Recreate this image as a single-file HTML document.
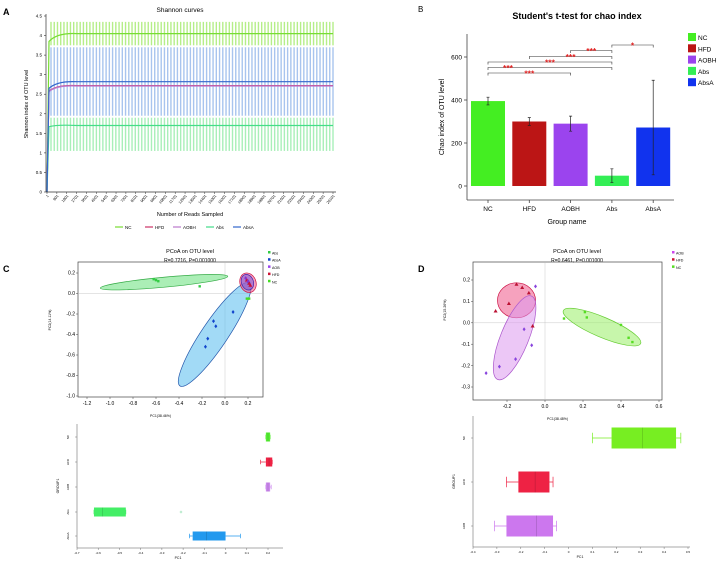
<!DOCTYPE html>
<html><head><meta charset="utf-8"><style>
body{margin:0;background:#fff;font-family:"Liberation Sans",sans-serif}
svg text{font-family:"Liberation Sans",sans-serif}
</style></head><body>
<svg id="fig" width="718" height="561" viewBox="0 0 718 561" xmlns="http://www.w3.org/2000/svg">
<g id="gA"></g>
<g id="gB"></g>
<g id="gC"></g>
<g id="gD"></g>
</svg>
<script>
// ===== Panel A data =====
const aGroups=["NC","HFD","AOBH","Abs","AbsA"];
const aFinal=[4.05,2.72,2.71,1.70,2.82];
const aEarly=[3.85,2.58,2.57,1.67,2.65];
const aErrLo=[3.75,null,null,1.05,1.95];
const aErrHi=[4.35,null,null,1.90,3.70];
const aTickLabels=["1","901","1801","2701","3601","4501","5401","6301","7201","8101","9001","9901","10801","11701","12601","13501","14401","15301","16201","17101","18001","18901","19801","20701","21601","22501","23401","24301","25201","26101"];
const aYTicks=[0,0.5,1,1.5,2,2.5,3,3.5,4,4.5];
// ===== Panel B data =====
const bCats=["NC","HFD","AOBH","Abs","AbsA"];
const bVals=[395,300,290,48,272];
const bErr=[18,18,35,32,220];
const bTicks=[0,200,400,600];
const bSig=[[0,2,"***"],[0,3,"***"],[0,3,"***"],[1,3,"***"],[2,3,"***"],[3,4,"*"]];
// ===== Panel C data =====
const cAbsX=[-0.62,-0.60,-0.58,-0.22];const cAbsY=[0.14,0.13,0.12,0.07];
const cAbsAX=[0.07,-0.10,-0.08,-0.15,-0.17,0.20,0.21];const cAbsAY=[-0.18,-0.27,-0.32,-0.44,-0.52,0.12,0.10];
const cNCX=[0.19,0.21];const cNCY=[-0.05,-0.05];
const cHFDX=[0.19,0.21,0.22];const cHFDY=[0.13,0.10,0.08];
const cAOBX=[0.18,0.2];const cAOBY=[0.15,0.12];
const cXTicks=[-1.2,-1.0,-0.8,-0.6,-0.4,-0.2,0.0,0.2];
const cYTicks=[0.2,0.0,-0.2,-0.4,-0.6,-0.8,-1.0];
const cBoxGroups=["NC","HFD","AOB","Abs","AbsA"];
const cBoxQ1=[0.19,0.19,0.19,-0.62,-0.155];const cBoxMed=[0.2,0.205,0.2,-0.58,-0.09];const cBoxQ3=[0.21,0.22,0.21,-0.47,0];
const cBoxMin=[0.19,0.165,0.19,-0.62,-0.17];const cBoxMax=[0.21,0.22,0.215,-0.47,0.07];
const cBoxTicks=[-0.7,-0.6,-0.5,-0.4,-0.3,-0.2,-0.1,0,0.1,0.2];
// ===== Panel D data =====
const dHFDX=[-0.15,-0.12,-0.085,-0.19,-0.26,-0.065];const dHFDY=[0.18,0.165,0.14,0.09,0.055,-0.015];
const dAOBX=[-0.05,-0.11,-0.07,-0.155,-0.24,-0.31];const dAOBY=[0.17,-0.03,-0.105,-0.17,-0.205,-0.235];
const dNCX=[0.1,0.21,0.22,0.4,0.44,0.46];const dNCY=[0.02,0.05,0.025,-0.01,-0.07,-0.09];
const dXTicks=[-0.2,0.0,0.2,0.4,0.6];const dYTicks=[0.2,0.1,0.0,-0.1,-0.2,-0.3];
const dBoxGroups=["NC","HFD","AOB"];
const dBoxQ1=[0.18,-0.21,-0.26];const dBoxMed=[0.31,-0.14,-0.135];const dBoxQ3=[0.45,-0.08,-0.065];
const dBoxMin=[0.1,-0.26,-0.31];const dBoxMax=[0.47,-0.065,-0.05];
const dBoxTicks=[-0.4,-0.3,-0.2,-0.1,0,0.1,0.2,0.3,0.4,0.5];

const NS="http://www.w3.org/2000/svg";
function mk(p,t,a,txt){const e=document.createElementNS(NS,t);for(const k in a)e.setAttribute(k,a[k]);if(txt!==undefined)e.textContent=txt;p.appendChild(e);return e;}
function lin(d0,d1,r0,r1){return v=>r0+(v-d0)*(r1-r0)/(d1-d0);}

// ===== A =====
(function(){
const g=document.getElementById('gA');
let t;
t=mk(g,'text',{x:3,y:15,'font-size':9,'font-weight':'bold'},'A');
t=mk(g,'text',{x:180,y:12,'font-size':6.5,'text-anchor':'middle'},'Shannon curves');
const X0=47,X1=333;const y=lin(0,4.5,192,16);
const n=aTickLabels.length;const x=i=>X0+i*(X1-X0)/(n-1);
const lineC=["#77dd33","#cc3366","#bb77cc","#44dd88","#3366cc"];
const errC=["#b5ee88",null,null,"#a8efb8","#a8c4ee"];
[0,4,3].forEach(gi=>{for(let k=0;k<n*3-2;k++){const xx=X0+4+k*(X1-X0-4)/(n*3-3);
const l=mk(g,'line',{x1:xx,x2:xx,y1:y(aErrLo[gi]),y2:y(aErrHi[gi]),stroke:errC[gi],'stroke-width':1.4});}});
aGroups.forEach((nm,i)=>{const p=mk(g,'path',{d:`M${X0} ${y(0)} L${X0+2} ${y(aEarly[i])} Q${X0+10} ${y(aFinal[i])-1} ${X0+30} ${y(aFinal[i])} L${X1} ${y(aFinal[i])}`,fill:'none',stroke:lineC[i],'stroke-width':1.2});
});
mk(g,'line',{x1:X0-1,x2:X0-1,y1:14,y2:192,stroke:'#333','stroke-width':0.7});
mk(g,'line',{x1:X0-1,x2:X1+3,y1:192,y2:192,stroke:'#333','stroke-width':0.7});
aYTicks.forEach(v=>{mk(g,'line',{x1:X0-3,x2:X0-1,y1:y(v),y2:y(v),stroke:'#333','stroke-width':0.6});
t=mk(g,'text',{x:X0-5,y:y(v)+1.5,'font-size':4.5,'text-anchor':'end'},String(v));});
aTickLabels.forEach((s,i)=>{mk(g,'line',{x1:x(i),x2:x(i),y1:192,y2:194,stroke:'#333','stroke-width':0.5});
t=mk(g,'text',{x:x(i)+2,y:196,'font-size':3.8,'text-anchor':'end',transform:`rotate(-50 ${x(i)+2} 196)`},s);});
t=mk(g,'text',{x:190,y:216,'font-size':5.5,'text-anchor':'middle'},'Number of Reads Sampled');
t=mk(g,'text',{x:28,y:104,'font-size':5.5,'text-anchor':'middle',transform:'rotate(-90 28 104)'},'Shannon index of OTU level');
const lx=[115,145,173,206,233];
aGroups.forEach((nm,i)=>{mk(g,'line',{x1:lx[i],x2:lx[i]+8,y1:227,y2:227,stroke:lineC[i],'stroke-width':1.2});
t=mk(g,'text',{x:lx[i]+10,y:229,'font-size':4.5},nm);});
})();

// ===== B =====
(function(){
const g=document.getElementById('gB');let t;
t=mk(g,'text',{x:418,y:12,'font-size':8},'B');
t=mk(g,'text',{x:577,y:19,'font-size':9,'font-weight':'bold','text-anchor':'middle'},"Student's t-test for chao index");
const y=lin(0,600,186,57);const X0=467,X1=674;const cx=i=>488+i*41.3;
mk(g,'line',{x1:X0,x2:X0,y1:34,y2:200,stroke:'#444','stroke-width':0.8});
mk(g,'line',{x1:X0,x2:X1,y1:200,y2:200,stroke:'#444','stroke-width':0.8});
bTicks.forEach(v=>{mk(g,'line',{x1:X0-3,x2:X0,y1:y(v),y2:y(v),stroke:'#444','stroke-width':0.8});
t=mk(g,'text',{x:X0-5,y:y(v)+2.5,'font-size':6.5,'text-anchor':'end'},String(v));});
const col=["#44ee22","#bb1515","#9b44ee","#33ee55","#1133ee"];
bCats.forEach((c,i)=>{const b=mk(g,'rect',{x:cx(i)-17,y:y(bVals[i]),width:34,height:y(0)-y(bVals[i]),fill:col[i]});

const e=mk(g,'path',{d:`M${cx(i)} ${y(bVals[i]+bErr[i])}V${y(bVals[i]-bErr[i])}M${cx(i)-1.5} ${y(bVals[i]+bErr[i])}h3M${cx(i)-1.5} ${y(bVals[i]-bErr[i])}h3`,stroke:'#222','stroke-width':0.7,fill:'none'});

mk(g,'line',{x1:cx(i),x2:cx(i),y1:200,y2:203,stroke:'#444','stroke-width':0.8});
t=mk(g,'text',{x:cx(i),y:211,'font-size':6.5,'text-anchor':'middle'},c);
mk(g,'rect',{x:688,y:33+i*11.3,width:8,height:8,fill:col[i]});
t=mk(g,'text',{x:698,y:40+i*11.3,'font-size':6.5},c);});
const by=[73,67.5,62,56.5,50.5,45];
bSig.forEach((s,k)=>{const a=cx(s[0]),b=cx(s[1]);const p=mk(g,'path',{d:`M${a} ${by[k]+2.5}V${by[k]}H${b}V${by[k]+2.5}`,stroke:'#333','stroke-width':0.6,fill:'none'});

const lx=k==1?a+20:(a+b)/2;
t=mk(g,'text',{x:lx,y:by[k]+3.5,'font-size':8.5,fill:'#e02020','font-weight':'bold','text-anchor':'middle'},s[2]);});
t=mk(g,'text',{x:567,y:224,'font-size':7,'text-anchor':'middle'},'Group name');
t=mk(g,'text',{x:444,y:117,'font-size':7,'text-anchor':'middle',transform:'rotate(-90 444 117)'},'Chao index of OTU level');
})();

function pcoa(g,o){let t;
const x=lin(o.xd[0],o.xd[1],o.xr[0],o.xr[1]),y=lin(o.yd[0],o.yd[1],o.yr[0],o.yr[1]);
t=mk(g,'text',{x:o.tx,y:253,'font-size':5.5,'text-anchor':'middle'},'PCoA on OTU level');
t=mk(g,'text',{x:o.tx,y:262,'font-size':5,'text-anchor':'middle'},o.r);
mk(g,'rect',{x:o.f[0],y:o.f[1],width:o.f[2]-o.f[0],height:o.f[3]-o.f[1],fill:'none',stroke:'#444','stroke-width':0.7});
mk(g,'line',{x1:x(0),x2:x(0),y1:o.f[1],y2:o.f[3],stroke:'#bbb','stroke-width':0.4});
mk(g,'line',{x1:o.f[0],x2:o.f[2],y1:y(0),y2:y(0),stroke:'#bbb','stroke-width':0.4});
o.ell.forEach(e=>{const el=mk(g,'ellipse',{cx:x(e[0]),cy:y(e[1]),rx:e[2],ry:e[3],transform:`rotate(${e[4]} ${x(e[0])} ${y(e[1])})`,fill:e[5],'fill-opacity':0.55,stroke:e[6],'stroke-width':0.7});});
o.pts.forEach(s=>{s.xs.forEach((v,i)=>{const px=x(v),py=y(s.ys[i]);let m;
if(s.shape=='tri')m=mk(g,'path',{d:`M${px} ${py-2}L${px+2} ${py+1.5}L${px-2} ${py+1.5}Z`,fill:s.c});
else if(s.shape=='dia')m=mk(g,'path',{d:`M${px} ${py-2}L${px+1.5} ${py}L${px} ${py+2}L${px-1.5} ${py}Z`,fill:s.c});
else m=mk(g,'rect',{x:px-1.2,y:py-1.2,width:2.4,height:2.4,fill:s.c});
});});
o.xt.forEach(v=>{mk(g,'line',{x1:x(v),x2:x(v),y1:o.f[3],y2:o.f[3]+2,stroke:'#444','stroke-width':0.5});t=mk(g,'text',{x:x(v),y:o.f[3]+8,'font-size':5,'text-anchor':'middle'},v.toFixed(1));});
o.yt.forEach(v=>{mk(g,'line',{x1:o.f[0]-2,x2:o.f[0],y1:y(v),y2:y(v),stroke:'#444','stroke-width':0.5});t=mk(g,'text',{x:o.f[0]-3,y:y(v)+1.7,'font-size':5,'text-anchor':'end'},v.toFixed(1));});
t=mk(g,'text',{x:(o.f[0]+o.f[2])/2-10,y:o.f[3]+20,'font-size':3.5,'text-anchor':'middle'},o.xl);
const yx=o.f[0]-27;t=mk(g,'text',{x:yx,y:o.ylY,'font-size':3.5,'text-anchor':'middle',transform:`rotate(-90 ${yx} ${o.ylY})`},o.yl);
o.leg.forEach((l,i)=>{mk(g,'rect',{x:o.lx,y:253+i*7.2-2,width:2.5,height:2.5,fill:l[1]});t=mk(g,'text',{x:o.lx+4,y:254.5+i*7.2,'font-size':3.6},l[0]);});
}
function boxes(g,o){let t;const x=lin(o.xd[0],o.xd[1],o.xr[0],o.xr[1]);
mk(g,'line',{x1:o.f[0],x2:o.f[0],y1:o.f[1],y2:o.f[3],stroke:'#555','stroke-width':0.5});
mk(g,'line',{x1:o.f[0],x2:o.f[2],y1:o.f[3],y2:o.f[3],stroke:'#555','stroke-width':0.5});
o.groups.forEach((gn,i)=>{const yc=o.rows[i],h=o.h;
const w=mk(g,'path',{d:`M${x(o.mn[i])} ${yc}H${x(o.q1[i])}M${x(o.q3[i])} ${yc}H${x(o.mx[i])}M${x(o.mn[i])} ${yc-h/4}v${h/2}M${x(o.mx[i])} ${yc-h/4}v${h/2}`,stroke:o.c[i],'stroke-width':0.7,fill:'none'});
const b=mk(g,'rect',{x:x(o.q1[i]),y:yc-h/2,width:Math.max(2,x(o.q3[i])-x(o.q1[i])),height:h,fill:o.c[i]});
mk(g,'line',{x1:x(o.med[i]),x2:x(o.med[i]),y1:yc-h/2,y2:yc+h/2,stroke:'rgba(0,0,0,0.25)','stroke-width':0.5});
mk(g,'line',{x1:o.f[0]-2,x2:o.f[0],y1:yc,y2:yc,stroke:'#555','stroke-width':0.4});
t=mk(g,'text',{x:o.f[0]-8,y:yc,'font-size':3,'text-anchor':'middle',transform:`rotate(-90 ${o.f[0]-8} ${yc})`},gn);});
o.xt.forEach(v=>{mk(g,'line',{x1:x(v),x2:x(v),y1:o.f[3],y2:o.f[3]+2,stroke:'#555','stroke-width':0.4});t=mk(g,'text',{x:x(v),y:o.f[3]+6,'font-size':3,'text-anchor':'middle'},String(v));});
t=mk(g,'text',{x:o.xl,y:o.f[3]+11,'font-size':3.5,'text-anchor':'middle'},'PC1');
t=mk(g,'text',{x:o.f[0]-18,y:(o.f[1]+o.f[3])/2,'font-size':3.5,'text-anchor':'middle',transform:`rotate(-90 ${o.f[0]-18} ${(o.f[1]+o.f[3])/2})`},'GROUP1');
}
// ===== C =====
(function(){const g=document.getElementById('gC');let t;
t=mk(g,'text',{x:3,y:272,'font-size':9,'font-weight':'bold'},'C');
pcoa(g,{xd:[-1.2,0.2],xr:[87,248],yd:[0.2,-1.0],yr:[273,396],f:[78,262,263,397],tx:190,r:'R=0.7216, P=0.001000',
ell:[[-0.53,0.11,64,5,-5.3,'#66e07a','#33aa44'],[-0.09,-0.4,62,13,-56,'#55bbee','#2255aa'],[0.2,0.105,8,10,-20,'#ee5588','#cc1144'],[0.195,0.11,6,8,-20,'#7755dd','#4422aa']],
pts:[{n:'Abs',xs:cAbsX,ys:cAbsY,c:'#33cc44',shape:'sq'},{n:'AbsA',xs:cAbsAX,ys:cAbsAY,c:'#1144cc',shape:'dia'},{n:'NC',xs:cNCX,ys:cNCY,c:'#44dd22',shape:'sq'},{n:'HFD',xs:cHFDX,ys:cHFDY,c:'#cc1133',shape:'tri'},{n:'AOB',xs:cAOBX,ys:cAOBY,c:'#8833cc',shape:'dia'}],
xt:cXTicks,yt:cYTicks,xl:'PC1(38.46%)',yl:'PC2(14.11%)',ylY:320,lx:268,
leg:[['Abs','#33cc44'],['AbsA','#1144cc'],['AOB','#9944ee'],['HFD','#cc1133'],['NC','#44dd22']]});
boxes(g,{xd:[-0.7,0.2],xr:[77,268],f:[77,424,283,548],groups:cBoxGroups,rows:[437,462,487,512,536],h:9,
q1:cBoxQ1,med:cBoxMed,q3:cBoxQ3,mn:cBoxMin,mx:cBoxMax,c:['#55ee33','#ee2244','#cc88ee','#44ee66','#2299ee'],xt:cBoxTicks,xl:178});
const o=mk(g,'circle',{cx:lin(-0.7,0.2,77,268)(-0.21),cy:512,r:1,fill:'none',stroke:'#88ddaa','stroke-width':0.5});
})();
// ===== D =====
(function(){const g=document.getElementById('gD');let t;
t=mk(g,'text',{x:418,y:272,'font-size':9,'font-weight':'bold'},'D');
pcoa(g,{xd:[-0.2,0.6],xr:[507,659],yd:[0.2,-0.3],yr:[280,387],f:[473,262,662,400],tx:577,r:'R=0.6461, P=0.001000',
ell:[[-0.15,0.105,19,17.5,0,'#ee5588','#cc1144'],[-0.16,-0.07,14,45,22,'#dd99ee','#aa55cc'],[0.3,-0.02,42,10,23,'#99ee66','#66cc33']],
pts:[{n:'HFD',xs:dHFDX,ys:dHFDY,c:'#bb1133',shape:'tri'},{n:'AOB',xs:dAOBX,ys:dAOBY,c:'#8844dd',shape:'dia'},{n:'NC',xs:dNCX,ys:dNCY,c:'#55dd22',shape:'sq'}],
xt:dXTicks,yt:dYTicks,xl:'PC1(38.48%)',yl:'PC2(15.26%)',ylY:310,lx:672,
leg:[['AOB','#cc44ee'],['HFD','#cc1133'],['NC','#55dd22']]});
boxes(g,{xd:[-0.4,0.5],xr:[473,688],f:[473,416,690,547],groups:dBoxGroups,rows:[438,482,526],h:21,
q1:dBoxQ1,med:dBoxMed,q3:dBoxQ3,mn:dBoxMin,mx:dBoxMax,c:['#77ee22','#ee2244','#cc77ee'],xt:dBoxTicks,xl:580});
})();
</script>
</body></html>
